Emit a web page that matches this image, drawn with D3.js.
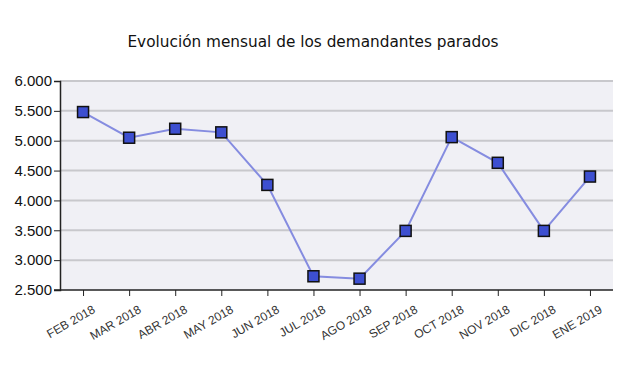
<!DOCTYPE html>
<html>
<head>
<meta charset="utf-8">
<script src="https://cdn.jsdelivr.net/npm/d3@7"></script>
<style>
  body { margin: 0; background: #fff; }
  svg { display: block; }
</style>
</head>
<body>
<div id="chart"></div>
<script>
var months = ['FEB 2018', 'MAR 2018', 'ABR 2018', 'MAY 2018', 'JUN 2018', 'JUL 2018',
              'AGO 2018', 'SEP 2018', 'OCT 2018', 'NOV 2018', 'DIC 2018', 'ENE 2019'];
var parados = [5480, 5050, 5200, 5140, 4260, 2730, 2690, 3490, 5060, 4630, 3490, 4400];
var yTicks = [2500, 3000, 3500, 4000, 4500, 5000, 5500, 6000];

var width = 620, height = 368;
var margin = { top: 81, right: 7, bottom: 78, left: 60 };

var svg = d3.select('#chart').append('svg')
    .attr('width', width)
    .attr('height', height);

var x = d3.scalePoint()
    .domain(months)
    .range([margin.left, width - margin.right])
    .padding(0.5);

var y = d3.scaleLinear()
    .domain([2500, 6000])
    .range([height - margin.bottom, margin.top]);

var fmt = function(d) { return d3.format(',')(d).replace(/,/g, '.'); };

// plot background
svg.append('rect')
    .attr('x', margin.left)
    .attr('y', margin.top)
    .attr('width', width - margin.right - margin.left)
    .attr('height', height - margin.bottom - margin.top)
    .attr('fill', '#f0f0f5');

// gridlines
svg.append('g').selectAll('line')
    .data(yTicks.slice(1))
    .join('line')
    .attr('x1', margin.left)
    .attr('x2', width - margin.right)
    .attr('y1', function(d) { return y(d); })
    .attr('y2', function(d) { return y(d); })
    .attr('stroke', '#c8c8cc')
    .attr('stroke-width', 2);

// y axis
var yAxis = svg.append('g')
    .attr('transform', 'translate(' + margin.left + ',0)')
    .call(d3.axisLeft(y).tickValues(yTicks).tickFormat(fmt).tickSize(6).tickPadding(2));
yAxis.select('.domain').attr('stroke', '#222').attr('stroke-width', 1.5);
yAxis.selectAll('.tick line').attr('stroke', '#222');
yAxis.selectAll('text')
    .attr('font-family', 'Liberation Sans, Arial, sans-serif')
    .attr('font-size', 15)
    .attr('fill', '#111');

// x axis
var xAxis = svg.append('g')
    .attr('transform', 'translate(0,' + (height - margin.bottom) + ')')
    .call(d3.axisBottom(x).tickSize(6).tickSizeOuter(0));
xAxis.select('.domain')
    .attr('d', 'M' + (margin.left - 6) + ',0H' + (width - margin.right))
    .attr('stroke', '#222').attr('stroke-width', 1.5);
xAxis.selectAll('.tick line').attr('stroke', '#222');
xAxis.selectAll('text')
    .attr('font-family', 'Liberation Sans, Arial, sans-serif')
    .attr('font-size', 12)
    .attr('fill', '#333')
    .attr('text-anchor', 'end')
    .attr('dy', null)
    .attr('transform', 'translate(8,14) rotate(-30)');

// line
var line = d3.line()
    .x(function(d, i) { return x(months[i]); })
    .y(function(d) { return y(d); });

svg.append('path')
    .datum(parados)
    .attr('d', line)
    .attr('fill', 'none')
    .attr('stroke', '#858ce0')
    .attr('stroke-width', 2);

// markers
svg.append('g').selectAll('rect')
    .data(parados)
    .join('rect')
    .attr('x', function(d, i) { return x(months[i]) - 5.5; })
    .attr('y', function(d) { return y(d) - 5.5; })
    .attr('width', 11)
    .attr('height', 11)
    .attr('fill', '#3d4fd0')
    .attr('stroke', '#111')
    .attr('stroke-width', 1.5);

// title
svg.append('text')
    .attr('x', 313)
    .attr('y', 47)
    .attr('text-anchor', 'middle')
    .attr('font-family', 'DejaVu Sans, sans-serif')
    .attr('font-size', 15.3)
    .attr('fill', '#111')
    .text('Evolución mensual de los demandantes parados');
</script>
</body>
</html>
